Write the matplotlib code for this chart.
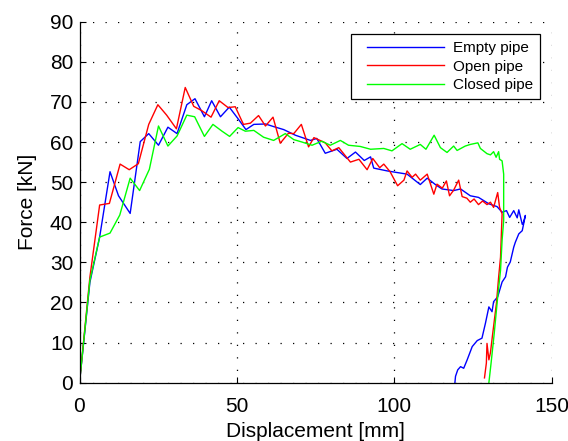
import matplotlib
matplotlib.use("Agg")
import matplotlib.pyplot as plt
from matplotlib.legend_handler import HandlerLine2D

plt.rcParams['font.family'] = ['Liberation Sans', 'DejaVu Sans']

# Force-displacement curves [mm, kN]
empty_x = [0, 3.3, 6.4, 9.7, 12.4, 16.1, 19.3, 22.0, 25.1, 28.1, 31.0, 34.1, 36.7, 39.7,
           42.0, 44.8, 47.6, 50.3, 52.9, 55.4, 59.1, 61.9, 64.9, 68.6, 71.2, 73.4, 75.4,
           78.1, 81.8, 85.0, 87.7, 90.5, 92.5, 93.5, 97.8, 100.9, 104.1, 108.3, 110.5,
           113.1, 115.2, 118.9, 121.1, 124.2, 126.8, 130.1, 132.7, 134.3, 135.7, 136.7,
           138.0, 139.1, 139.6, 140.7, 141.1, 141.7,
           140.7, 139.6, 138.5, 138.0, 136.9, 136.0, 135.4, 134.3, 132.9, 131.6, 131.1,
           130.1, 129.0, 127.9, 126.4, 124.8, 123.2, 122.1, 121.1, 120.2, 119.5, 119.3]
empty_f = [0, 25.0, 36.3, 52.6, 46.6, 42.2, 60.1, 62.1, 59.2, 63.7, 62.1, 69.3, 70.8, 66.3,
           70.3, 66.3, 68.7, 65.9, 63.1, 64.4, 64.5, 63.8, 63.1, 61.7, 61.0, 60.4, 60.9,
           57.2, 58.2, 55.9, 57.5, 55.4, 56.3, 53.5, 52.8, 52.4, 52.0, 49.4, 51.0,
           49.4, 48.3, 47.9, 48.3, 46.6, 46.2, 44.6, 43.9, 42.5, 42.9, 41.2,
           42.9, 41.1, 43.1, 39.5, 40.0, 41.7,
           37.9, 37.1, 35.0, 33.8, 30.1, 28.8, 26.4, 25.1, 21.4, 20.2, 17.7,
           18.9, 14.8, 11.1, 10.5, 9.0, 5.7, 3.6, 4.0, 3.2, 1.6, 0]

open_x = [0, 3.3, 6.4, 9.5, 12.9, 15.8, 18.7, 22.0, 24.9, 27.7, 30.8, 33.6, 36.3, 38.9,
          41.8, 44.4, 47.2, 49.5, 52.1, 54.3, 56.9, 59.1, 61.5, 63.8, 66.4, 68.1, 70.5,
          72.8, 74.5, 78.1, 80.2, 82.4, 86.1, 88.8, 91.4, 93.2, 95.4, 96.7, 98.7, 101.1,
          103.1, 104.1, 105.7, 106.8, 108.3, 110.5, 112.6, 113.6, 115.3, 116.6, 117.6,
          118.9, 120.5, 121.6, 123.1, 124.2, 125.4, 126.8, 128.1, 129.5, 130.6, 131.6,
          132.9, 133.5, 134.3,
          133.8, 133.2, 132.5, 131.2, 130.6, 130.1, 129.5, 129.3, 128.7]
open_f = [0, 26.3, 44.3, 44.7, 54.5, 53.1, 54.6, 64.4, 69.3, 66.7, 63.3, 73.6, 68.9, 67.8,
          66.2, 70.3, 68.6, 68.8, 64.4, 64.7, 66.6, 64.0, 66.2, 59.7, 62.2, 62.1, 64.4,
          58.8, 61.1, 59.8, 57.8, 58.6, 55.0, 55.7, 53.1, 55.9, 53.6, 54.5, 52.6, 49.1,
          50.5, 52.8, 51.2, 52.0, 50.5, 52.0, 47.0, 49.5, 48.5, 50.3, 46.6,
          48.0, 50.5, 46.4, 46.0, 45.0, 45.8, 44.4, 45.3, 44.4, 45.0, 43.7,
          47.4, 43.7, 42.1,
          31.3, 26.3, 19.8, 11.5, 7.5, 5.7, 9.8, 4.9, 1.2]

closed_x = [0, 3.3, 6.4, 9.7, 12.8, 16.1, 19.1, 22.2, 25.1, 28.1, 31.0, 34.1, 36.6, 39.7,
            42.4, 45.3, 47.7, 50.4, 52.7, 55.4, 58.5, 61.7, 65.4, 68.1, 70.7, 73.9, 77.0,
            79.7, 82.9, 85.5, 89.2, 92.5, 96.7, 99.3, 102.5, 105.1, 108.3, 110.1, 112.7,
            114.7, 116.8, 118.9, 120.0, 122.6, 124.2, 126.6, 127.4, 129.5, 130.6, 131.6,
            132.4, 133.2, 133.5, 134.3, 134.8, 134.8, 134.3, 133.8, 132.9, 131.8, 130.8,
            130.1]
closed_f = [0, 25.5, 36.3, 37.3, 41.8, 51.0, 47.9, 53.2, 64.0, 59.0, 61.5, 66.7, 66.3, 61.4,
            64.4, 62.7, 61.4, 63.6, 62.7, 62.9, 61.2, 60.4, 62.1, 60.6, 60.0, 59.2, 60.2,
            59.2, 60.4, 59.2, 58.9, 58.2, 58.4, 57.8, 59.6, 58.2, 59.4, 58.2, 61.7,
            58.6, 57.4, 59.0, 57.9, 59.0, 59.4, 59.8, 58.4, 57.1, 56.8, 57.6,
            56.2, 57.6, 55.7, 55.3, 52.0, 40.4, 35.5, 28.0, 21.4, 12.3, 4.9,
            0]

labels = ['Empty pipe', 'Open pipe', 'Closed pipe']
colors = ['#0000ff', '#ff0000', '#00ff00']

fig = plt.figure(figsize=(5.68, 4.41), dpi=100)
ax = fig.add_axes([79.5 / 568, 58.3 / 441, 472 / 568, 361 / 441])

for xs, fs, lab, col in zip([empty_x, open_x, closed_x],
                            [empty_f, open_f, closed_f], labels, colors):
    ax.plot(xs, fs, color=col, lw=1.0, label=lab)

ax.set_xlim(0, 150)
ax.set_ylim(0, 90)
ax.set_xticks([0, 50, 100, 150])
ax.set_yticks(range(0, 91, 10))

# box off: only left/bottom axes, the grid closes the frame
ax.spines['top'].set_visible(False)
ax.spines['right'].set_visible(False)
for sp in ('left', 'bottom'):
    ax.spines[sp].set_linewidth(0.9)
ax.tick_params(direction='in', length=4, width=0.8, labelsize=15)
ax.tick_params(axis='x', pad=10)
ax.tick_params(axis='y', pad=4.5)
ax.grid(True, color='black', linestyle=(0, (1, 9)), linewidth=0.9)

ax.set_xlabel('Displacement [mm]', fontsize=15, labelpad=4.5)
ax.set_ylabel('Force [kN]', fontsize=15, labelpad=9)

leg = ax.legend(loc='upper right', bbox_to_anchor=(0.9756, 0.966), fontsize=11,
                handlelength=5.64, fancybox=False, framealpha=1, edgecolor='black',
                borderpad=0.45, labelspacing=0.31, handletextpad=0.59,
                borderaxespad=0.0,
                handler_map={plt.Line2D: HandlerLine2D(xpad=0.6)})
leg.get_frame().set_linewidth(0.9)

fig.savefig('out.png', dpi=100)
